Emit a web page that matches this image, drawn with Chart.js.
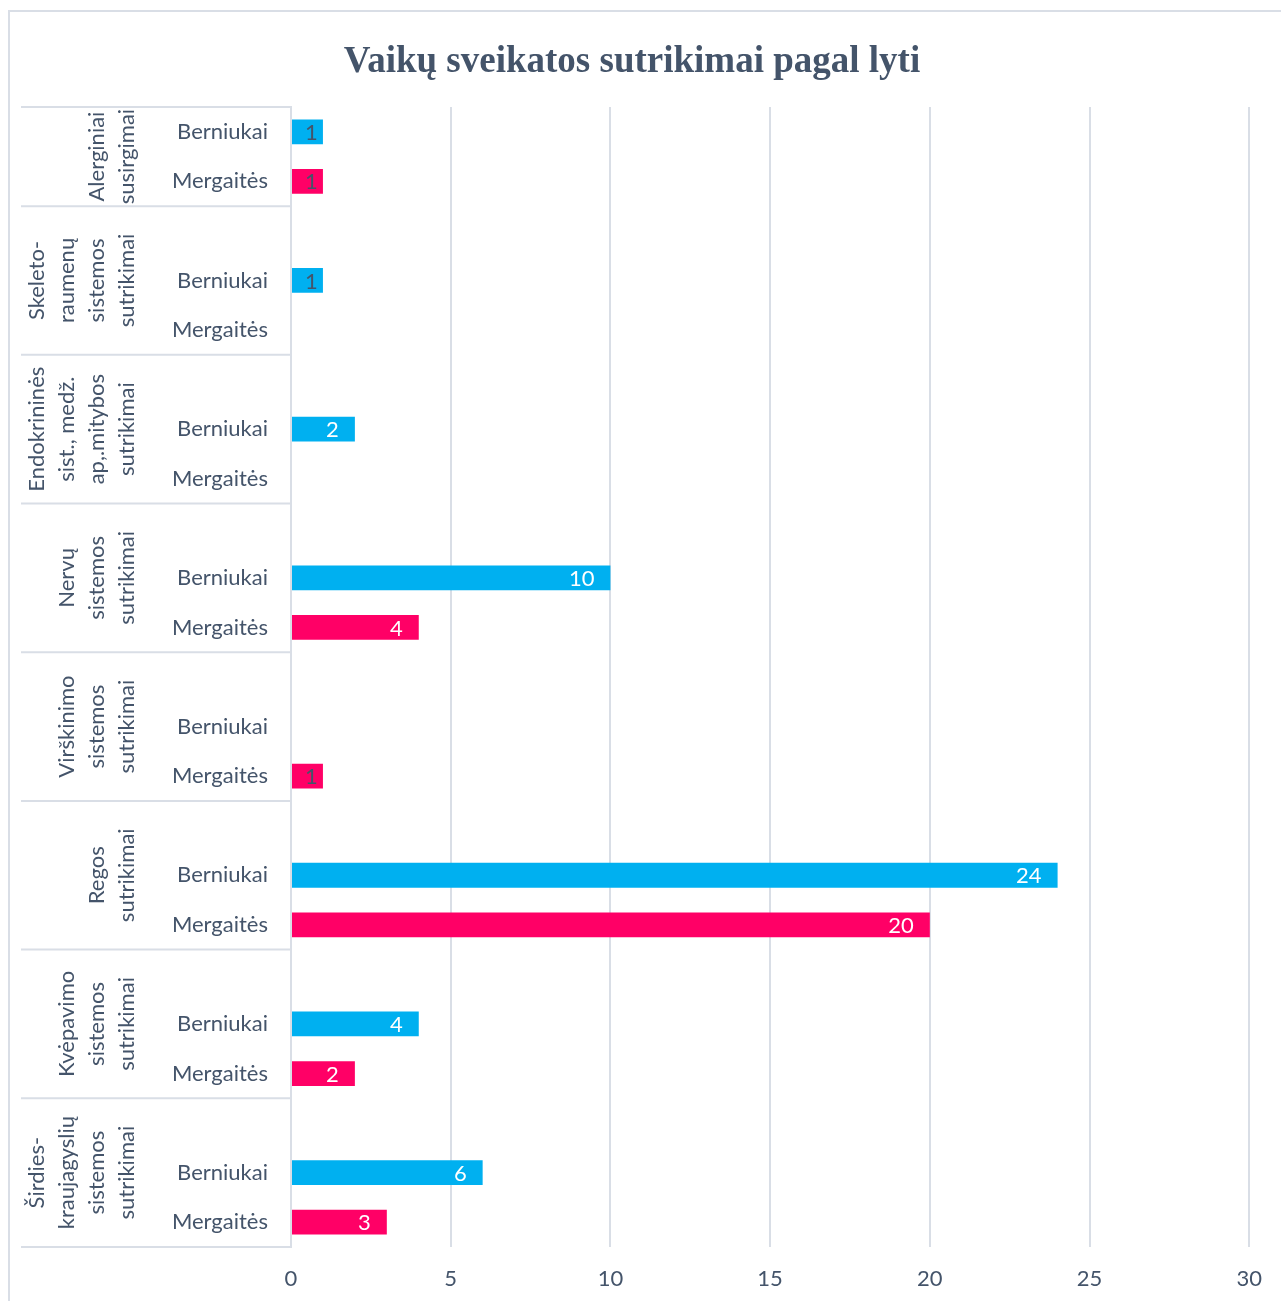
<!DOCTYPE html>
<html>
<head>
<meta charset="utf-8">
<script src="https://cdn.jsdelivr.net/npm/chart.js@4/dist/chart.umd.min.js"></script>
<style>
  html, body { margin: 0; padding: 0; background: #fff; }
  #wrap { width: 1281px; height: 1301px; position: relative; }
</style>
</head>
<body>
<div id="wrap"><canvas id="chart"></canvas></div>
<script>
// data
const groupNames = [
  ['Alerginiai', 'susirgimai'],
  ['Skeleto-', 'raumenų', 'sistemos', 'sutrikimai'],
  ['Endokrininės', 'sist., medž.', 'ap,.mitybos', 'sutrikimai'],
  ['Nervų', 'sistemos', 'sutrikimai'],
  ['Virškinimo', 'sistemos', 'sutrikimai'],
  ['Regos', 'sutrikimai'],
  ['Kvėpavimo', 'sistemos', 'sutrikimai'],
  ['Širdies-', 'kraujagyslių', 'sistemos', 'sutrikimai'],
];
const genders = ['Berniukai', 'Mergaitės'];
const berniukai = [1, 1, 2, 10, null, 24, 4, 6];
const mergaites = [1, null, null, 4, 1, 20, 2, 3];
const xMax = 30;
const xStep = 5;
const title = 'Vaikų sveikatos sutrikimai pagal lyti';

const TEXT = '#44546A';
const LINE = '#D9DEE6';
const FONT = 'Lato, "Open Sans", sans-serif';

// one row per gender, blank spacer row between groups
const rowLabels = [];
const boysRow = [];
const girlsRow = [];
const groupRows = [];
groupNames.forEach((g, i) => {
  const start = rowLabels.length;
  if (i > 0) {
    rowLabels.push('');
    boysRow.push(null);
    girlsRow.push(null);
  }
  rowLabels.push(genders[0]);
  boysRow.push(berniukai[i]);
  girlsRow.push(null);
  rowLabels.push(genders[1]);
  boysRow.push(null);
  girlsRow.push(mergaites[i]);
  groupRows.push([start, rowLabels.length - 1]);
});

Chart.defaults.font.family = FONT;
Chart.defaults.color = TEXT;

const frame = {
  id: 'frame',
  beforeDraw(chart) {
    const ctx = chart.ctx;
    ctx.save();
    ctx.strokeStyle = LINE;
    ctx.lineWidth = 2;
    ctx.strokeRect(9, 11, 1300, 1310);
    ctx.fillStyle = TEXT;
    ctx.font = 'bold 37px "Liberation Serif", serif';
    ctx.textAlign = 'center';
    ctx.textBaseline = 'alphabetic';
    ctx.fillText(title, 632, 72);
    ctx.restore();
  },
  afterDraw(chart) {
    const ctx = chart.ctx;
    const y = chart.scales.y;
    const rowH = y.getPixelForValue(1) - y.getPixelForValue(0);
    const right = chart.chartArea.left;
    ctx.save();
    ctx.strokeStyle = LINE;
    ctx.lineWidth = 2;
    groupRows.forEach(([a, b], i) => {
      const top = y.getPixelForValue(a) - rowH / 2;
      const bot = y.getPixelForValue(b) + rowH / 2;
      ctx.beginPath();
      ctx.moveTo(21, top);
      ctx.lineTo(right, top);
      if (i === groupRows.length - 1) {
        ctx.moveTo(21, bot);
        ctx.lineTo(right, bot);
      }
      ctx.stroke();
      const cy = (top + bot) / 2;
      const lines = groupNames[i];
      ctx.fillStyle = TEXT;
      ctx.font = '22px ' + FONT;
      ctx.textAlign = 'center';
      ctx.textBaseline = 'middle';
      lines.forEach((t, k) => {
        const x = 127 - (lines.length - 1 - k) * 30;
        ctx.save();
        ctx.translate(x, cy);
        ctx.rotate(-Math.PI / 2);
        ctx.fillText(t, 0, 0);
        ctx.restore();
      });
    });
    ctx.restore();
  },
  afterDatasetsDraw(chart) {
    const ctx = chart.ctx;
    ctx.save();
    ctx.font = '22px ' + FONT;
    ctx.textBaseline = 'middle';
    chart.data.datasets.forEach((ds, di) => {
      chart.getDatasetMeta(di).data.forEach((bar, i) => {
        const v = ds.data[i];
        if (v === null || v === undefined) return;
        const w = bar.x - bar.base;
        if (w < 40) {
          ctx.fillStyle = TEXT;
          ctx.textAlign = 'center';
          ctx.fillText(String(v), bar.base + w / 2 + 4, bar.y + 1);
        } else {
          ctx.fillStyle = '#ffffff';
          ctx.textAlign = 'right';
          ctx.fillText(String(v), bar.x - 16, bar.y + 1);
        }
      });
    });
    ctx.restore();
  },
};

new Chart(document.getElementById('chart'), {
  type: 'bar',
  data: {
    labels: rowLabels,
    datasets: [
      {
        label: genders[0],
        data: boysRow,
        backgroundColor: '#00B0F0',
        grouped: false,
        barPercentage: 0.5,
        categoryPercentage: 1,
      },
      {
        label: genders[1],
        data: girlsRow,
        backgroundColor: '#FF0066',
        grouped: false,
        barPercentage: 0.5,
        categoryPercentage: 1,
      },
    ],
  },
  options: {
    indexAxis: 'y',
    responsive: true,
    maintainAspectRatio: false,
    devicePixelRatio: 1,
    animation: false,
    layout: { padding: { left: 0, top: 107, right: 28, bottom: 0 } },
    plugins: {
      legend: { display: false },
      tooltip: { enabled: false },
      title: { display: false },
    },
    scales: {
      x: {
        min: 0,
        max: xMax,
        ticks: { stepSize: xStep, padding: 19, font: { size: 22 }, color: TEXT },
        grid: { color: LINE, lineWidth: 2, drawTicks: false },
        border: { display: false },
        afterFit(scale) { scale.height = 54; },
      },
      y: {
        ticks: { padding: 23, font: { size: 22 }, color: TEXT, autoSkip: false },
        grid: { display: false, drawTicks: false },
        border: { display: true, color: LINE, width: 2 },
        afterFit(scale) { scale.width = 291; },
      },
    },
  },
  plugins: [frame],
});
</script>
</body>
</html>
